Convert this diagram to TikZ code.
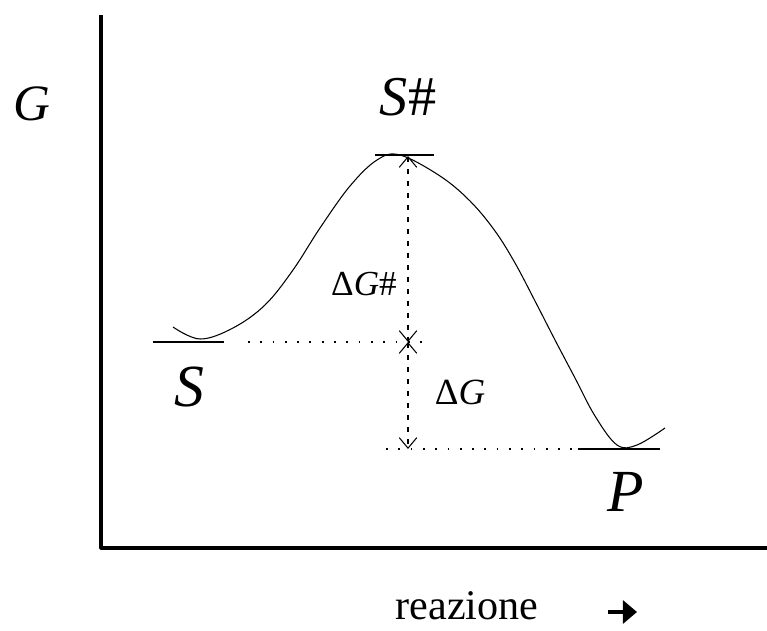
\documentclass[tikz,border=0pt]{standalone}
\usepackage{fontspec}
\setmainfont{Liberation Serif}
\usetikzlibrary{arrows.meta}
\tikzset{lev/.style={line width=1.2pt},
  lbl/.style={anchor=base,inner sep=0pt},
  dotline/.style={line width=1pt,dash pattern=on 1pt off 6pt},
  gap/.style={line width=0.6pt,dash pattern=on 2.8pt off 4pt},
  barb/.style={{Straight Barb[length=6pt,width=10pt]}-{Straight Barb[length=6pt,width=10pt]}}}

\begin{document}
\begin{tikzpicture}[x=0.02cm,y=-0.02cm,line join=round]
\useasboundingbox (0,0) rectangle (767,631);
% --- axes
\coordinate (top) at (101,15); \coordinate (orig) at (101,548); \coordinate (xend) at (767,548);
\draw[line width=1.8pt] (top) -- (orig) -- (xend);
\node[lbl] (g) at (32,121) {\fontsize{29}{29}\selectfont\textit{G}};
% --- levels
\coordinate (ts1) at (375,155); \coordinate (ts2) at (434,155);
\coordinate (s1) at (153,342); \coordinate (s2) at (224,342);
\coordinate (p1) at (578,449); \coordinate (p2) at (660,449);
\draw[lev] (ts1) -- (ts2); \draw[lev] (s1) -- (s2); \draw[lev] (p1) -- (p2);
\node[lbl] (ts) at (408,116) {\fontsize{32}{32}\selectfont\textit{S}\#};
\node[lbl] (s) at (189,406) {\fontsize{34}{34}\selectfont\textit{S}};
\node[lbl] (p) at (626,511) {\fontsize{34}{34}\selectfont\textit{P}};
% --- profile
\draw[line width=0.6pt] plot[smooth,tension=0.6] coordinates {(173,327) (200,339) (233,328) (265,305) (293,270) (320,228) (350,186) (377,160) (400,155) (440,176) (470,201) (495,231) (515,263) (535,301) (555,340) (575,378) (595,416) (617,445) (637,445) (665,428)};
% --- differences
\coordinate (ts0) at (408,156); \coordinate (mid) at (408,342); \coordinate (low) at (408,449);
\coordinate (d1) at (248,342); \coordinate (d2) at (432,342);
\coordinate (d3) at (386,449);
\draw[dotline] (d1) -- (d2); \draw[dotline] (d3) -- (p1);
\draw[gap,barb] (ts0) -- (mid);
\draw[gap,barb] (mid) -- (low);
\node[lbl] (dgts) at (364,296) {\fontsize{20}{20}\selectfont Δ\textit{G}\#};
\node[lbl] (dg) at (460,404) {\fontsize{21}{21}\selectfont Δ\textit{G}};
% --- x label
\node[lbl] (rx) at (467,619) {\fontsize{24}{24}\selectfont reazione};
\coordinate (a1) at (608,612); \coordinate (a2) at (637,612);
\draw[line width=2.2pt,-{Triangle[length=8pt,width=13pt]}] (a1) -- (a2);
\end{tikzpicture}
\end{document}
